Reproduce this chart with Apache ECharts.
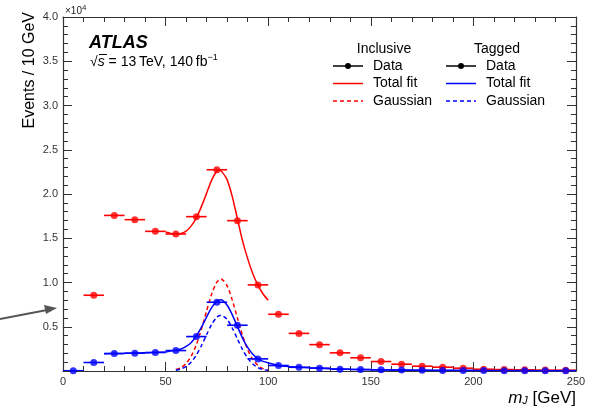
<!DOCTYPE html>
<html>
<head>
<meta charset="utf-8">
<script src="https://cdn.jsdelivr.net/npm/echarts@6/dist/echarts.min.js"></script>
<style>html,body{margin:0;padding:0;background:#fff;}#c{width:589px;height:409px;}</style>
</head>
<body>
<div id="c"></div>
<script>
// ---- data (events per 10 GeV bin) ----
const binCenters = [5,15,25,35,45,55,65,75,85,95,105,115,125,135,145,155,165,175,185,195,205,215,225,235,245];
const binWidth = 10;
const inclusiveData = [null,8560,17580,17100,15780,15480,17440,22740,16990,9730,6410,4250,2980,2050,1490,1070,770,540,430,320,200,160,130,100,90];
const taggedData = [30,960,1970,2010,2090,2310,3890,7770,5170,1370,620,420,320,200,170,130,100,80,70,60,50,40,40,30,30];

const incFitX = [50,52.5,55,57.5,60,62.5,65,67.5,70,72.5,75,76,77.5,80,82.5,85,87.5,90,92.5,95,97.5,100];
const incFit  = [15700,15550,15500,15550,15800,16400,17300,18600,20100,21600,22600,22700,22500,21600,19700,17200,14700,12700,11000,9700,8700,8000];

const tagFitX = [20,25,30,35,40,45,50,55,57.5,60,62.5,65,67.5,70,72.5,75,77,80,82.5,85,87.5,90,92.5,95,97.5,100,105,110,115,120,125,130,140,150,160,170,180,200,225,250];
const tagFit  = [1950,1980,2000,2030,2050,2100,2150,2350,2480,2770,3220,3960,4950,6120,7190,7890,8050,7430,6350,5020,3720,2660,1890,1380,1090,920,630,500,420,360,310,260,200,150,110,90,70,50,40,30];

const gaussX   = [55,57.5,60,62.5,65,67.5,70,72.5,75,77,80,82.5,85,87.5,90,92.5,95,97.5,100];
const incGauss = [160,380,860,1680,2990,4760,6800,8730,10050,10400,9620,8010,5980,4000,2410,1300,630,270,110];
const tagGauss = [95,230,520,1020,1810,2880,4120,5290,6090,6300,5830,4850,3620,2420,1460,790,380,165,65];

const xTicks = {min:0, max:250, step:50};
const yTicks = {min:0, max:40000, step:5000, scale:1e4};

// ---- helpers ----
const FONT = 'Liberation Sans, Arial, Helvetica, sans-serif';
const RED = '#ff0000', BLUE = '#0000ff';
function pairs(xs, ys){ const out=[]; xs.forEach((x,i)=>{ if(ys[i]!==null && ys[i]!==undefined) out.push([x, ys[i]]); }); return out; }

function errBars(name, data, color){
  return {
    name: name, type:'custom', xAxisIndex:0, yAxisIndex:0, clip:true,
    renderItem: function(params, api){
      const x = api.value(0), y = api.value(1);
      const p1 = api.coord([x - binWidth/2, y]), p2 = api.coord([x + binWidth/2, y]);
      return {type:'line', shape:{x1:p1[0], y1:p1[1], x2:p2[0], y2:p2[1]}, style:{stroke:color, lineWidth:1.6}};
    },
    data: data, z: 3
  };
}
function dots(name, data, color){
  return {name:name, type:'scatter', data:data, symbol:'circle', symbolSize:7, itemStyle:{color:color}, z:4};
}
function curve(name, data, color, dashed){
  return {name:name, type:'line', data:data, showSymbol:false, smooth:0.25, z:2,
    lineStyle:{color:color, width:1.5, type: dashed ? [4,3] : 'solid'}};
}

const axisCol = '#333';
function xAx(pos, showLabel){
  return {type:'value', position:pos, min:xTicks.min, max:xTicks.max, interval:xTicks.step,
    axisLine:{show:true, onZero:false, lineStyle:{color:axisCol, width:1.2}},
    axisTick:{show:true, inside:true, length:9, lineStyle:{color:axisCol}},
    minorTick:{show:true, splitNumber:5, length:5, lineStyle:{color:axisCol}},
    splitLine:{show:false}, minorSplitLine:{show:false},
    axisLabel:{show:showLabel, margin:5, fontFamily:FONT, fontSize:11, color:'#333'}};
}
function yAx(pos, showLabel){
  return {type:'value', position:pos, min:yTicks.min, max:yTicks.max, interval:yTicks.step,
    axisLine:{show:true, onZero:false, lineStyle:{color:axisCol, width:1.2}},
    axisTick:{show:true, inside:true, length:9, lineStyle:{color:axisCol}},
    minorTick:{show:true, splitNumber:5, length:5, lineStyle:{color:axisCol}},
    splitLine:{show:false}, minorSplitLine:{show:false},
    axisLabel:{show:showLabel, margin:5, fontFamily:FONT, fontSize:11, color:'#333',
      formatter: v => v === 0 ? '' : (v / yTicks.scale).toFixed(1)}};
}

// legend built from graphic elements
const legX = {inc:333, tag:446}, legW = 30, legTextDx = 40;
const legRows = [66, 83.5, 101];
function legendCol(x0, color, title){
  const els = [];
  els.push({type:'text', x:x0 + legW/2 + 36, y:49, style:{text:title, fontFamily:FONT, fontSize:14, fill:'#000', align:'center', verticalAlign:'middle'}});
  els.push({type:'line', shape:{x1:x0, y1:legRows[0], x2:x0+legW, y2:legRows[0]}, style:{stroke:'#000', lineWidth:1.5}});
  els.push({type:'circle', shape:{cx:x0+legW/2, cy:legRows[0], r:3}, style:{fill:'#000'}});
  els.push({type:'text', x:x0+legTextDx, y:legRows[0], style:{text:'Data', fontFamily:FONT, fontSize:14, fill:'#000', verticalAlign:'middle'}});
  els.push({type:'line', shape:{x1:x0, y1:legRows[1], x2:x0+legW, y2:legRows[1]}, style:{stroke:color, lineWidth:1.5}});
  els.push({type:'text', x:x0+legTextDx, y:legRows[1], style:{text:'Total fit', fontFamily:FONT, fontSize:14, fill:'#000', verticalAlign:'middle'}});
  els.push({type:'line', shape:{x1:x0, y1:legRows[2], x2:x0+legW, y2:legRows[2]}, style:{stroke:color, lineWidth:1.5, lineDash:[4,3]}});
  els.push({type:'text', x:x0+legTextDx, y:legRows[2], style:{text:'Gaussian', fontFamily:FONT, fontSize:14, fill:'#000', verticalAlign:'middle'}});
  return els;
}

const graphics = [].concat(
  legendCol(legX.inc, RED, 'Inclusive'),
  legendCol(legX.tag, BLUE, 'Tagged'),
  [
    {type:'text', x:89, y:43, style:{text:'ATLAS', fontFamily:FONT, fontSize:18, fontWeight:'bold', fontStyle:'italic', fill:'#000', verticalAlign:'middle'}},
    {type:'text', x:90, y:62, style:{text:'{a|√}{b|s}{c| = 13\u2009TeV, 140\u2009fb}{d|−1}', verticalAlign:'middle',
      rich:{a:{fontFamily:FONT, fontSize:14, fill:'#000'}, b:{fontFamily:FONT, fontSize:14, fontStyle:'italic', fill:'#000'},
            c:{fontFamily:FONT, fontSize:14, fill:'#000'}, d:{fontFamily:FONT, fontSize:9, fill:'#000', padding:[0,0,8,0]}}}},
    {type:'line', shape:{x1:99, y1:54.5, x2:107, y2:54.5}, style:{stroke:'#000', lineWidth:1}},
    {type:'text', x:65, y:11, style:{text:'×10{s|4}', fontFamily:FONT, fontSize:10, fill:'#222', verticalAlign:'middle',
      rich:{s:{fontFamily:FONT, fontSize:8, fill:'#222', padding:[0,0,6,0]}}}},
    {type:'text', x:30, y:12, rotation:Math.PI/2, style:{text:'Events / 10 GeV', fontFamily:FONT, fontSize:16, fill:'#000', align:'right', verticalAlign:'middle'}},
    {type:'text', x:576, y:398, style:{text:'{m|m}{j|J}{t| [GeV]}', align:'right', verticalAlign:'middle',
      rich:{m:{fontFamily:FONT, fontSize:17, fontStyle:'italic', fill:'#000'}, j:{fontFamily:FONT, fontSize:11, fontStyle:'italic', fill:'#000', padding:[6,0,0,0]},
            t:{fontFamily:FONT, fontSize:17, fill:'#000'}}}},
    {type:'line', shape:{x1:0, y1:319, x2:47, y2:310}, style:{stroke:'#555', lineWidth:2}},
    {type:'polygon', shape:{points:[[57,308],[44,305],[46,314]]}, style:{fill:'#555'}}
  ]
);

const incPts = pairs(binCenters, inclusiveData);
const tagPts = pairs(binCenters, taggedData);

const option = {
  animation:false,
  backgroundColor:'#fff',
  grid:{left:63, right:13, top:17, bottom:38, containLabel:false},
  xAxis:[xAx('bottom', true), xAx('top', false)],
  yAxis:[yAx('left', true), yAx('right', false)],
  series:[
    curve('Inclusive Gaussian', pairs(gaussX, incGauss), RED, true),
    curve('Tagged Gaussian', pairs(gaussX, tagGauss), BLUE, true),
    curve('Inclusive Total fit', pairs(incFitX, incFit), RED, false),
    curve('Tagged Total fit', pairs(tagFitX, tagFit), BLUE, false),
    errBars('Inclusive Data err', incPts, RED),
    errBars('Tagged Data err', tagPts, BLUE),
    dots('Inclusive Data', incPts, RED),
    dots('Tagged Data', tagPts, BLUE)
  ],
  graphic: graphics
};
const chart = echarts.init(document.getElementById('c'), null, {renderer:'canvas'});
chart.setOption(option);
</script>
</body>
</html>
